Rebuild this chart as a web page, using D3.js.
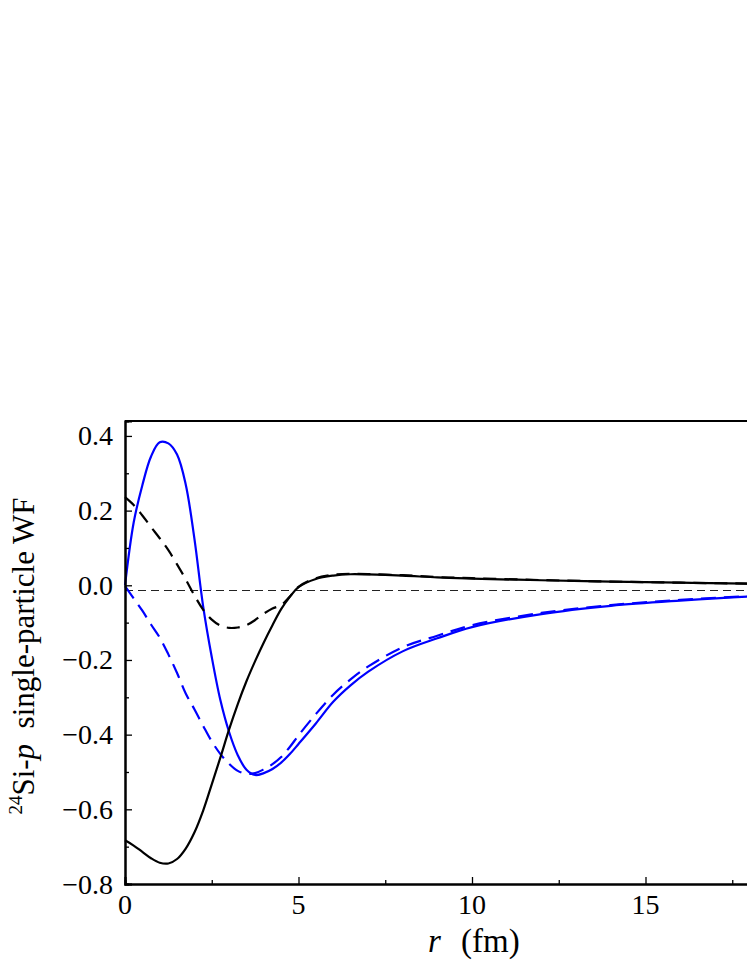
<!DOCTYPE html>
<html>
<head>
<meta charset="utf-8">
<script src="https://cdn.jsdelivr.net/npm/d3@7"></script>
<style>
    body { margin: 0; background: #fff; }
    svg { display: block; }
    svg text { font-family: "Liberation Serif", "DejaVu Serif", serif; fill: #000; }
</style>
</head>
<body>
<svg class="wf-chart" width="747" height="967"></svg>
<script>
// radius grid (fm)
const rValues = [0, 0.25, 0.5, 0.75, 1, 1.25, 1.5, 1.75, 2, 2.25, 2.5, 2.75, 3, 3.25, 3.5, 3.75,
    4, 4.25, 4.5, 4.75, 5, 5.5, 6, 6.5, 7, 8, 9, 10, 12, 14, 16, 18, 20];

const blackSolid = [-0.683, -0.697, -0.714, -0.731, -0.743, -0.745, -0.733, -0.705, -0.662, -0.604,
    -0.533, -0.461, -0.386, -0.318, -0.257, -0.203, -0.153, -0.107, -0.064, -0.031, -0.005, 0.017,
    0.026, 0.0295, 0.029, 0.026, 0.021, 0.018, 0.0135, 0.010, 0.007, 0.0045, 0.002];

const blackDashed = [0.236, 0.215, 0.187, 0.156, 0.126, 0.094, 0.056, 0.016, -0.027, -0.065,
    -0.092, -0.108, -0.114, -0.113, -0.107, -0.093, -0.076, -0.062, -0.053, -0.030, -0.004, 0.019,
    0.028, 0.031, 0.030, 0.027, 0.022, 0.019, 0.014, 0.010, 0.007, 0.0045, 0.002];

const blueSolid = [0, 0.168, 0.268, 0.345, 0.383, 0.380, 0.350, 0.270, 0.125, -0.055,
    -0.192, -0.308, -0.393, -0.455, -0.494, -0.508, -0.503, -0.492, -0.475, -0.452, -0.425, -0.370,
    -0.312, -0.268, -0.232, -0.177, -0.142, -0.112, -0.077, -0.055, -0.041, -0.030, -0.023];

const blueDashed = [-0.002, -0.035, -0.068, -0.105, -0.140, -0.185, -0.235, -0.290, -0.332, -0.376,
    -0.418, -0.452, -0.478, -0.497, -0.505, -0.503, -0.493, -0.479, -0.460, -0.433, -0.402, -0.345,
    -0.293, -0.252, -0.218, -0.166, -0.135, -0.107, -0.074, -0.053, -0.039, -0.029, -0.022];

const refLineValue = -0.0125;

const xMajorTicks = [0, 5, 10, 15, 20];
const xTickLabels = [0, 5, 10, 15];
const xMinorTicks = [2.5, 7.5, 12.5, 17.5];
const yMajorTicks = [-0.8, -0.6, -0.4, -0.2, 0.0, 0.2, 0.4];
const yMinorTicks = [-0.7, -0.5, -0.3, -0.1, 0.1, 0.3];

let svg = d3.select(".wf-chart"),
    margin = {left: 125, top: 421, right: -72, bottom: 83},
    width = +svg.attr("width") - margin.left - margin.right,
    height = +svg.attr("height") - margin.top - margin.bottom,
    g = svg.append("g").attr("transform", "translate(" + margin.left + "," + margin.top + ")");

let x = d3.scaleLinear().domain([0, 20]).range([0, width]);
let y = d3.scaleLinear().domain([-0.8, 0.44]).range([height, 0]);

function makeSeries(values) {
    return rValues.map(function (r, i) {
        return {r: r, v: values[i]};
    });
}

let line = d3.line()
    .x(function (d) { return x(d.r); })
    .y(function (d) { return y(d.v); })
    .curve(d3.curveCatmullRom.alpha(0.5));

// thin dashed reference line (snapped to pixel grid so it stays crisp)
let refY = Math.round(y(refLineValue)) + 0.5;
g.append("line")
    .attr("x1", 0).attr("x2", width)
    .attr("y1", refY).attr("y2", refY)
    .attr("stroke", "#222")
    .attr("stroke-width", 1)
    .attr("stroke-dasharray", "8,5");

let series = [
    {values: blueDashed, color: "#0000ff", dash: "15,8"},
    {values: blueSolid, color: "#0000ff", dash: null},
    {values: blackDashed, color: "#000", dash: "13,8"},
    {values: blackSolid, color: "#000", dash: null}
];

g.selectAll(".wf-line")
    .data(series)
    .enter().append("path")
    .attr("class", "wf-line")
    .attr("fill", "none")
    .attr("stroke", function (d) { return d.color; })
    .attr("stroke-width", 2.2)
    .attr("stroke-dasharray", function (d) { return d.dash; })
    .attr("d", function (d) { return line(makeSeries(d.values)); });

// top frame
g.append("line").attr("x1", 0).attr("x2", width).attr("y1", 0).attr("y2", 0)
    .attr("stroke", "#000").attr("stroke-width", 2);

// axes with inward ticks
g.append("g")
    .attr("transform", "translate(0," + height + ")")
    .call(d3.axisTop(x).tickValues(xMajorTicks).tickSize(7).tickFormat(""));
g.append("g")
    .attr("transform", "translate(0," + height + ")")
    .call(d3.axisTop(x).tickValues(xMinorTicks).tickSize(4).tickFormat(""));

g.append("g")
    .call(d3.axisRight(y).tickValues(yMajorTicks).tickSize(7).tickFormat(""));
g.append("g")
    .call(d3.axisRight(y).tickValues(yMinorTicks).tickSize(4).tickFormat(""));

g.selectAll(".domain").attr("stroke", "#000").attr("stroke-width", 2);
g.selectAll(".tick line").attr("stroke", "#000").attr("stroke-width", 1.3);

// tick labels
g.selectAll(".x-label")
    .data(xTickLabels)
    .enter().append("text")
    .attr("class", "x-label")
    .attr("x", function (d) { return x(d); })
    .attr("y", height + 30)
    .attr("text-anchor", "middle")
    .attr("font-size", 28)
    .text(function (d) { return d; });

g.selectAll(".y-label")
    .data(yMajorTicks)
    .enter().append("text")
    .attr("class", "y-label")
    .attr("x", -12)
    .attr("y", function (d) { return y(d) + 9.5; })
    .attr("text-anchor", "end")
    .attr("font-size", 28)
    .text(function (d) { return d3.format(".1f")(d).replace("-", "\u2212"); });

// axis titles
let xTitle = svg.append("text")
    .attr("x", 428)
    .attr("y", 952)
    .attr("font-size", 33);
xTitle.append("tspan").attr("font-style", "italic").text("r");
xTitle.append("tspan").attr("x", 461).text("(fm)");

let yTitle = svg.append("text")
    .attr("transform", "translate(34,656) rotate(-90)")
    .attr("text-anchor", "middle")
    .attr("font-size", 31);
yTitle.append("tspan").attr("font-size", 19).attr("dy", -12).text("24");
yTitle.append("tspan").attr("dy", 12).text("Si-");
yTitle.append("tspan").attr("font-style", "italic").text("p");
yTitle.append("tspan").text("\u00a0\u00a0single-particle WF");
</script>
</body>
</html>
